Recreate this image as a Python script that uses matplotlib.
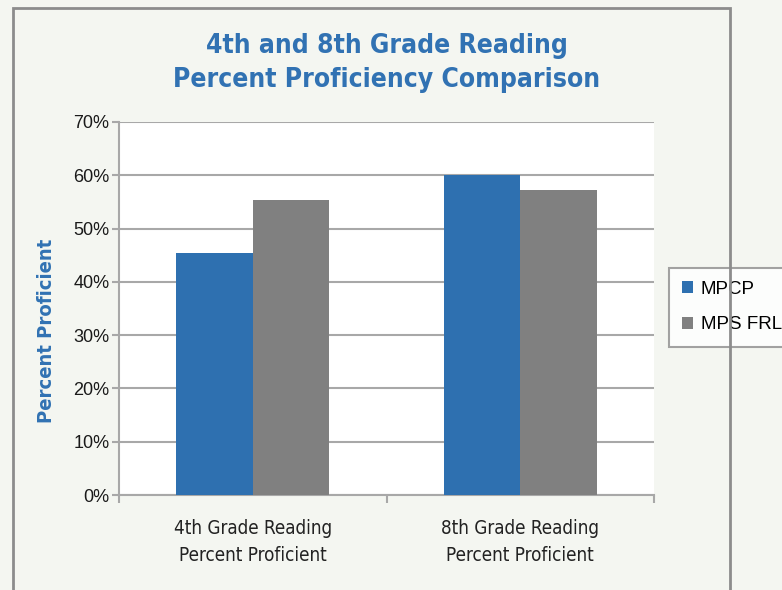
import matplotlib
matplotlib.use('Agg')
import matplotlib.pyplot as plt
import matplotlib.patches as mpatches
import numpy as np

# dados
categorias = ['4th Grade Reading\nPercent Proficient', '8th Grade Reading\nPercent Proficient']
series = ['MPCP', 'MPS FRL']
mpcp = [45.4, 60.0]
mps_frl = [55.3, 57.2]
ticks_y = [0, 10, 20, 30, 40, 50, 60, 70]

azul = '#2e70b0'
cinza = '#808080'
fundo = '#f4f6f1'
titulo_cor = '#3172b3'
fonte_arial = ['Liberation Sans', 'DejaVu Sans']

fig = plt.figure(figsize=(7.82, 5.90), dpi=100)
fig.patch.set_facecolor(fundo)

# moldura externa
W, H = 782, 590
moldura = mpatches.Rectangle((13 / W, -0.1), (730 - 13) / W, (590 - 8) / H + 0.1,
                             transform=fig.transFigure, fill=False,
                             edgecolor='#8c8c8c', linewidth=2, clip_on=False)
fig.patches.append(moldura)

ax = fig.add_axes([119 / W, 1 - 495 / H, (654 - 119) / W, (495 - 122) / H])
ax.set_facecolor('white')

x = np.arange(len(categorias))
largura = 0.286
ax.bar(x - largura / 2, mpcp, largura, color=azul, label=series[0], zorder=3)
ax.bar(x + largura / 2, mps_frl, largura, color=cinza, label=series[1], zorder=3)

ax.set_xlim(-0.5, 1.5)
ax.set_ylim(0, 70)
ax.set_yticks(ticks_y)
ax.set_yticklabels([str(t) + '%' for t in ticks_y], fontfamily=fonte_arial,
                   fontsize=13, color='#1a1a1a')
ax.yaxis.grid(True, color='#a8a8a8', linewidth=1.5, zorder=0)

# ticks do eixo x nas bordas das categorias
ax.set_xticks([-0.5, 0.5, 1.5])
ax.set_xticklabels(['', '', ''])
ax.set_xticks(x, minor=True)
ax.set_xticklabels(categorias, minor=True, fontfamily='DejaVu Sans', fontstretch='condensed',
                   fontsize=13.5, color='#222222', linespacing=1.55)
ax.tick_params(axis='x', which='minor', length=0, pad=17)
ax.tick_params(axis='x', which='major', length=6, width=1.5, color='#a8a8a8')
ax.tick_params(axis='y', length=5, width=1.5, color='#a8a8a8', pad=2)

for lado in ['top', 'right']:
    ax.spines[lado].set_visible(False)
for lado in ['left', 'bottom']:
    ax.spines[lado].set_color('#a8a8a8')
    ax.spines[lado].set_linewidth(1.5)

ax.set_ylabel('Percent Proficient', fontfamily='DejaVu Sans', fontstretch='condensed',
              fontweight='bold', fontsize=14.5, color=titulo_cor)
ax.yaxis.set_label_coords(-0.118, 0.44)

fig.text(387 / W, 1 - 63 / H, '4th and 8th Grade Reading\nPercent Proficiency Comparison',
         ha='center', va='center', fontfamily='DejaVu Sans', fontstretch='condensed',
         fontweight='bold', fontsize=19, color=titulo_cor, linespacing=1.4)

leg = ax.legend(loc='center left', bbox_to_anchor=(669 / W, 1 - 307 / H),
                bbox_transform=fig.transFigure, frameon=True, fancybox=False,
                prop={'family': fonte_arial, 'size': 13.5}, handlelength=0.6,
                handleheight=0.6, handletextpad=0.4, labelspacing=1.0,
                borderpad=0.7, borderaxespad=0)
leg.get_frame().set_edgecolor('#8c8c8c')
leg.get_frame().set_linewidth(1.5)

fig.savefig('out.png', dpi=100, facecolor=fig.get_facecolor())
